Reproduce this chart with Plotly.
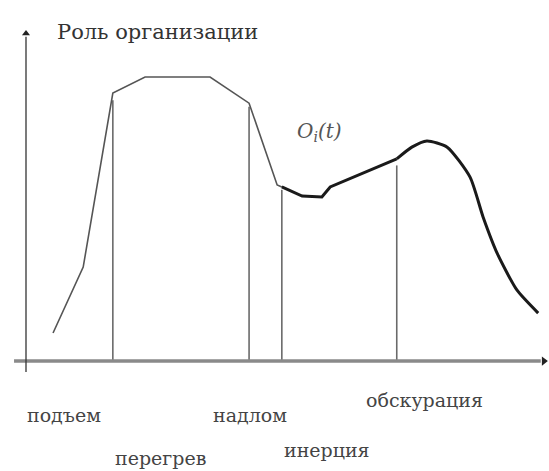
import plotly.graph_objects as go

# Schematic curve: role of organisation over time (t in 0..100, role in 0..100)
t_rise = [5.2, 11.0, 16.7, 22.9, 35.4, 42.9, 48.3, 49.2]
r_rise = [8.6, 28.8, 82.2, 87.1, 87.1, 79.1, 54.0, 53.4]

t_mid = [49.2, 53.1, 56.9, 58.5, 71.3]
r_mid = [53.4, 50.6, 50.3, 53.4, 62.0]

t_fall = [71.3, 74.2, 77.1, 81.0, 85.4, 87.9, 90.6, 94.4, 98.5]
r_fall = [62.0, 65.6, 67.5, 65.6, 56.4, 44.2, 33.1, 21.8, 14.7]

# phase boundaries and heights of vertical markers
bound_t = [16.7, 42.9, 49.2, 71.3]
bound_h = [80.0, 78.0, 52.5, 60.0]

phase_labels = ["подъем", "перегрев", "надлом", "инерция", "обскурация"]
phase_lx = [7.3, 25.8, 43.0, 57.8, 76.6]
phase_ly = [-16.6, -29.8, -16.6, -27.3, -12.0]

title_text = "Роль организации"
curve_label = "<i>O<sub>i</sub>(t)</i>"

serif = "DejaVu Serif, Liberation Serif, serif"

fig = go.Figure()

# vertical phase markers
for bt, bh in zip(bound_t, bound_h):
    fig.add_trace(go.Scatter(x=[bt, bt], y=[0, bh], mode="lines",
                             line=dict(color="#6a6a6a", width=1.6),
                             hoverinfo="skip", showlegend=False))

fig.add_trace(go.Scatter(x=t_rise, y=r_rise, mode="lines",
                         line=dict(color="#555555", width=1.6),
                         showlegend=False))
fig.add_trace(go.Scatter(x=t_mid, y=r_mid, mode="lines",
                         line=dict(color="#1a1a1a", width=3),
                         showlegend=False))
fig.add_trace(go.Scatter(x=t_fall, y=r_fall, mode="lines",
                         line=dict(color="#1a1a1a", width=3, shape="spline", smoothing=0.6),
                         showlegend=False))

# axes
fig.add_trace(go.Scatter(x=[-2.3, 99.0], y=[0, 0], mode="lines",
                         line=dict(color="#8a8a8a", width=3.5),
                         hoverinfo="skip", showlegend=False))
fig.add_trace(go.Scatter(x=[0, 0], y=[-3.4, 99.5], mode="lines",
                         line=dict(color="#333333", width=1.3),
                         hoverinfo="skip", showlegend=False))
# arrow tips
fig.add_trace(go.Scatter(x=[0], y=[100.5], mode="markers",
                         marker=dict(symbol="triangle-up", size=7, color="#222222"),
                         hoverinfo="skip", showlegend=False))
fig.add_trace(go.Scatter(x=[99.6], y=[0], mode="markers",
                         marker=dict(symbol="triangle-right", size=8, color="#222222"),
                         hoverinfo="skip", showlegend=False))

annotations = [
    dict(x=5.6, y=100.9, xref="x", yref="y", text=title_text, showarrow=False,
         xanchor="left", yanchor="middle",
         font=dict(family=serif, size=21, color="#333333")),
    dict(x=56.5, y=70.2, xref="x", yref="y", text=curve_label, showarrow=False,
         xanchor="center", yanchor="middle",
         font=dict(family=serif, size=20, color="#555555")),
]
for lab, lx, ly in zip(phase_labels, phase_lx, phase_ly):
    annotations.append(dict(x=lx, y=ly, xref="x", yref="y", text=lab, showarrow=False,
                            xanchor="center", yanchor="middle",
                            font=dict(family=serif, size=19, color="#444444")))

fig.update_layout(
    width=549, height=471,
    margin=dict(l=0, r=0, t=0, b=0),
    paper_bgcolor="white", plot_bgcolor="white",
    xaxis=dict(range=[-5.0, 100.58], visible=False, fixedrange=True),
    yaxis=dict(range=[-33.74, 110.74], visible=False, fixedrange=True),
    annotations=annotations,
    showlegend=False,
)

fig.write_html("out.html", config={"displayModeBar": False},
               post_script="document.body.style.margin='0';document.body.style.padding='0';")
